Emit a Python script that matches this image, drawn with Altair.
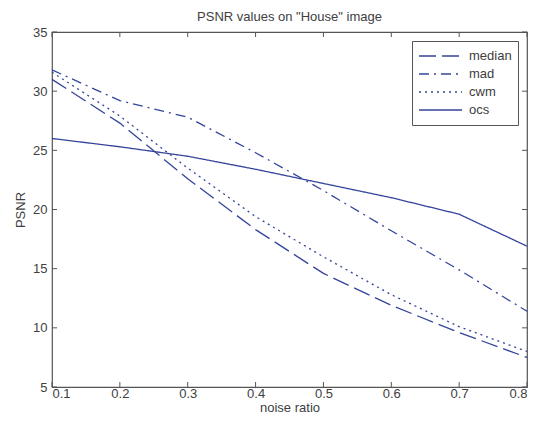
import altair as alt
import pandas as pd

# ---- data ----
noise_ratio = [0.1, 0.2, 0.3, 0.4, 0.5, 0.6, 0.7, 0.8]
median_vals = [31.0, 27.3, 22.6, 18.3, 14.6, 11.9, 9.6, 7.5]
mad_vals = [31.8, 29.2, 27.8, 24.8, 21.6, 18.2, 14.9, 11.4]
cwm_vals = [31.6, 27.9, 23.5, 19.4, 16.0, 12.8, 10.1, 8.0]
ocs_vals = [26.0, 25.3, 24.5, 23.4, 22.2, 21.0, 19.6, 16.9]

methods = ["median", "mad", "cwm", "ocs"]
dash_styles = [[17, 6], [10, 5, 2, 5], [2, 4], [1, 0]]

x_ticks = [0.1, 0.2, 0.3, 0.4, 0.5, 0.6, 0.7, 0.8]
y_ticks = [5, 10, 15, 20, 25, 30, 35]

series = {"median": median_vals, "mad": mad_vals, "cwm": cwm_vals, "ocs": ocs_vals}
rows = []
for m in methods:
    for x, v in zip(noise_ratio, series[m]):
        rows.append({"noise": x, "psnr": v, "method": m})
df = pd.DataFrame(rows)
xt_df = pd.DataFrame({"noise": x_ticks})
yt_df = pd.DataFrame({"psnr": y_ticks})

LINE = "#34449a"
AX = "#555555"
TXT = "#404040"
FONT = "Liberation Sans"
W, H = 475, 355

xs = alt.Scale(domain=[0.1, 0.8], nice=False, zero=False)
ys = alt.Scale(domain=[5, 35], nice=False, zero=False)

x_axis = alt.Axis(values=x_ticks, format=".1f", ticks=False, domain=False, grid=False,
                  title="noise ratio", labelPadding=0, titlePadding=1)
y_axis = alt.Axis(values=y_ticks, format="d", ticks=False, domain=False, grid=False,
                  title="PSNR", labelPadding=5, titlePadding=5)

lines = alt.Chart(df).mark_line(strokeWidth=1.3, color=LINE).encode(
    x=alt.X("noise:Q", scale=xs, axis=x_axis),
    y=alt.Y("psnr:Q", scale=ys, axis=y_axis),
    strokeDash=alt.StrokeDash("method:N", sort=methods,
                              scale=alt.Scale(domain=methods, range=dash_styles),
                              legend=alt.Legend(title=None, orient="top-right", offset=9,
                                                clipHeight=18)),
)

tick_bottom = alt.Chart(xt_df).mark_rule(color=AX).encode(
    x=alt.X("noise:Q", scale=xs, axis=x_axis), y=alt.value(H), y2=alt.value(H - 5))
tick_top = alt.Chart(xt_df).mark_rule(color=AX).encode(
    x=alt.X("noise:Q", scale=xs, axis=x_axis), y=alt.value(0), y2=alt.value(5))
tick_left = alt.Chart(yt_df).mark_rule(color=AX).encode(
    y=alt.Y("psnr:Q", scale=ys, axis=y_axis), x=alt.value(0), x2=alt.value(5))
tick_right = alt.Chart(yt_df).mark_rule(color=AX).encode(
    y=alt.Y("psnr:Q", scale=ys, axis=y_axis), x=alt.value(W), x2=alt.value(W - 5))

chart = alt.layer(lines, tick_bottom, tick_top, tick_left, tick_right).properties(
    width=W, height=H,
    title=alt.TitleParams('PSNR values on "House" image', fontSize=13, fontWeight="normal",
                          color=TXT, offset=2, font=FONT, frame="group"),
    autosize=alt.AutoSizeParams(type="none"),
    padding={"left": 44, "top": 24, "right": 1, "bottom": 32},
).configure_view(
    stroke=AX, strokeWidth=1.2
).configure_axis(
    labelFont=FONT, titleFont=FONT,
    labelFontSize=13, titleFontSize=13, labelColor=TXT, titleColor=TXT,
    titleFontWeight="normal"
).configure_legend(
    symbolType="stroke", symbolSize=1849, symbolStrokeWidth=1.3, symbolStrokeColor=LINE,
    labelFont=FONT, labelFontSize=13, labelColor=TXT,
    strokeColor=AX, fillColor="white", padding=6, rowPadding=0, labelOffset=6
)

chart.save("out.html", embed_options={"renderer": "svg", "actions": False})
